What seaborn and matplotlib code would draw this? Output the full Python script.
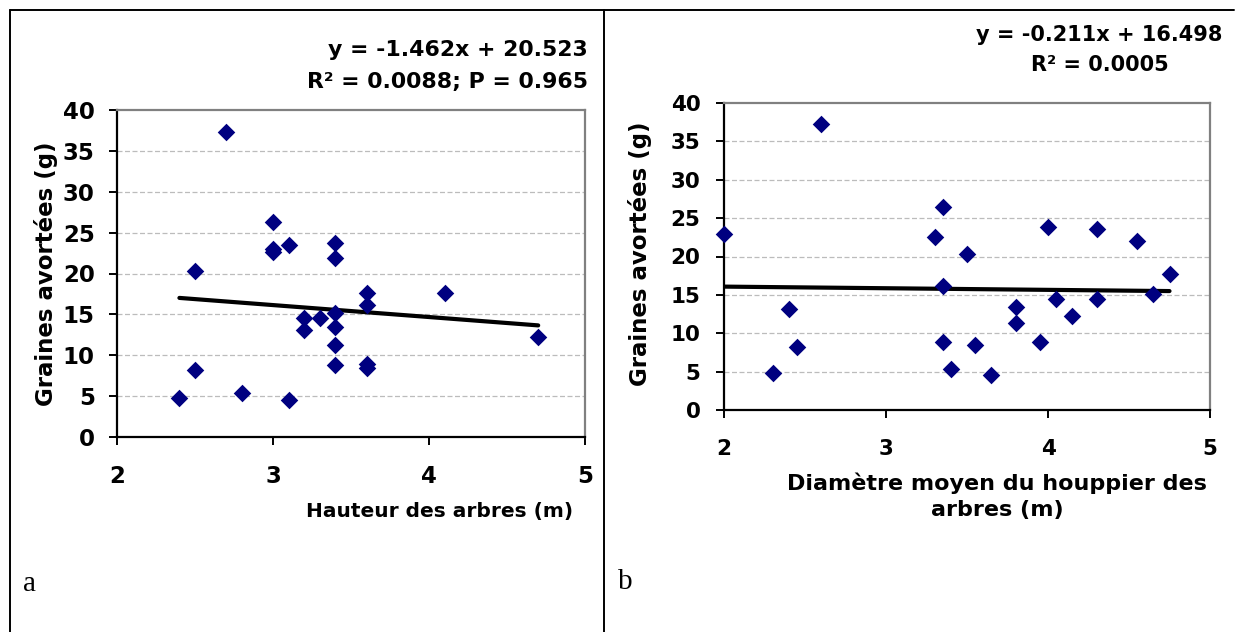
import numpy as np
import matplotlib
matplotlib.use("Agg")
import matplotlib.pyplot as plt
import seaborn as sns
from matplotlib.lines import Line2D

# ---- data ----
hauteur = [2.7, 2.5, 2.5, 2.4, 2.8, 3.0, 3.0, 3.0, 3.1, 3.1, 3.2, 3.2, 3.3,
           3.4, 3.4, 3.4, 3.4, 3.4, 3.4, 3.6, 3.6, 3.6, 3.6, 4.1, 4.7]
graines_a = [37.3, 20.3, 8.2, 4.8, 5.4, 26.3, 23.0, 22.6, 23.5, 4.5, 14.5, 13.1, 14.5,
             23.7, 21.9, 15.2, 13.4, 11.3, 8.8, 17.6, 16.1, 8.9, 8.5, 17.6, 12.2]

diametre = [2.0, 2.6, 2.3, 2.4, 2.45, 3.3, 3.35, 3.35, 3.35, 3.4, 3.5, 3.55, 3.65,
            3.8, 3.8, 3.95, 4.0, 4.05, 4.15, 4.3, 4.3, 4.55, 4.65, 4.75]
graines_b = [22.9, 37.3, 4.8, 13.1, 8.2, 22.6, 26.4, 16.1, 8.9, 5.4, 20.3, 8.5, 4.5,
             13.45, 11.3, 8.85, 23.8, 14.4, 12.2, 23.6, 14.4, 22.0, 15.05, 17.7]

fit_a = (-1.462, 20.523)
fit_b = (-0.211, 16.498)
eq_a = ["y = -1.462x + 20.523", "R² = 0.0088; P = 0.965"]
eq_b = ["y = -0.211x + 16.498", "R² = 0.0005"]

x_ticks = [2, 3, 4, 5]
y_ticks = [0, 5, 10, 15, 20, 25, 30, 35, 40]
ylabel = "Graines avortées (g)"
xlabel_a = "Hauteur des arbres (m)"
xlabel_b = "Diamètre moyen du houppier des\narbres (m)"
panel_labels = ["a", "b"]

# ---- style ----
sns.set_style("white")
plt.rcParams['font.family'] = ['DejaVu Sans']
plt.rcParams['font.weight'] = 'bold'
plt.rcParams['axes.labelweight'] = 'bold'
plt.rcParams['text.color'] = 'black'
plt.rcParams['axes.labelcolor'] = 'black'
plt.rcParams['xtick.color'] = 'black'
plt.rcParams['ytick.color'] = 'black'

W, H = 1236, 632
fig = plt.figure(figsize=(W / 100, H / 100), dpi=100)
fig.patch.set_facecolor('white')


def fx(x):
    return x / W


def fy(y):
    return 1 - y / H


def add_ax(l, t, r, b):
    return fig.add_axes([fx(l), fy(b), (r - l) / W, (b - t) / H])


ax1 = add_ax(117, 110, 585, 437)
ax2 = add_ax(724, 103, 1210, 410)

NAVY = '#000080'


def draw(ax, xs, ys, fit, ypad, xpad, tfs):
    xs = np.asarray(xs, float)
    sns.scatterplot(x=xs, y=ys, ax=ax, marker='D', s=80, color=NAVY,
                    edgecolor=NAVY, linewidth=0, zorder=4, clip_on=False)
    xl = np.array([xs.min(), xs.max()])
    sns.lineplot(x=xl, y=fit[0] * xl + fit[1], ax=ax, color='black',
                 linewidth=3.0, zorder=3)
    ax.set_xlim(2, 5)
    ax.set_ylim(0, 40)
    ax.set_xticks(x_ticks)
    ax.set_yticks(y_ticks)
    for yv in y_ticks[1:-1]:
        ax.axhline(yv, color='#bcbcbc', ls=(0, (4, 2)), lw=0.9, zorder=1)
    for s in ['left', 'bottom']:
        ax.spines[s].set_color('black')
        ax.spines[s].set_linewidth(1.6)
    for s in ['top', 'right']:
        ax.spines[s].set_color('#808080')
        ax.spines[s].set_linewidth(1.6)
    ax.tick_params(axis='both', direction='out', length=6, width=1.4,
                   color='black', labelcolor='black', labelsize=tfs,
                   left=True, bottom=True)
    ax.tick_params(axis='y', pad=ypad)
    ax.tick_params(axis='x', pad=xpad)
    for t in ax.get_xticklabels() + ax.get_yticklabels():
        t.set_fontweight('bold')
    ax.set_facecolor('white')


draw(ax1, hauteur, graines_a, fit_a, 10, 14, 16.5)
draw(ax2, diametre, graines_b, fit_b, 11, 15, 15.5)

# axis labels
ax1.set_ylabel(ylabel, fontsize=16.5)
ax1.yaxis.set_label_coords((58 - 117) / 468, 0.5)
ax2.set_ylabel(ylabel, fontsize=16.5)
ax2.yaxis.set_label_coords((652 - 724) / 486, 0.51)

ax1.set_xlabel(xlabel_a, fontsize=14.5, ha='center', va='center')
ax1.xaxis.set_label_coords((440 - 117) / 468, (437 - 511) / 327)
ax2.set_xlabel(xlabel_b, fontsize=16, ha='center', va='center', linespacing=1.35)
ax2.xaxis.set_label_coords((997 - 724) / 486, (410 - 496) / 307)

# equations
fig.text(fx(588), fy(50), eq_a[0], ha='right', va='center', fontsize=15.8)
fig.text(fx(588), fy(82), eq_a[1], ha='right', va='center', fontsize=15.8)
fig.text(fx(1099), fy(35), eq_b[0], ha='center', va='center', fontsize=15)
fig.text(fx(1100), fy(65), eq_b[1], ha='center', va='center', fontsize=15)

# panel letters
fig.text(fx(23), fy(584), panel_labels[0], ha='left', va='center', fontsize=21,
         fontweight='normal', family=['Liberation Serif', 'DejaVu Serif'])
fig.text(fx(618), fy(582), panel_labels[1], ha='left', va='center', fontsize=21,
         fontweight='normal', family=['Liberation Serif', 'DejaVu Serif'])

# table borders
for (x0, y0, x1, y1) in [(10, 10, 1234, 10), (10, 10, 10, 632), (604, 10, 604, 632)]:
    fig.add_artist(Line2D([fx(x0), fx(x1)], [fy(y0), fy(y1)],
                          transform=fig.transFigure, color='black', lw=1.4))

fig.savefig("out.png", dpi=100, facecolor='white')
